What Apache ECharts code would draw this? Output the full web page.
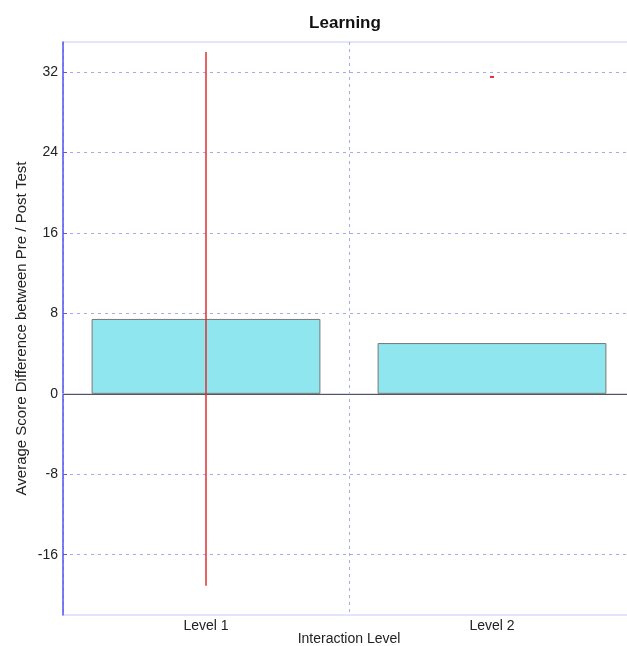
<!DOCTYPE html>
<html><head><meta charset="utf-8">
<script src="https://cdn.jsdelivr.net/npm/echarts@6/dist/echarts.min.js"></script>
<style>html,body{margin:0;padding:0;background:#fff;overflow:hidden}#c{width:627px;height:646px}</style>
</head><body><div id="c"></div>
<script>
var categories = ['Level 1', 'Level 2'];
var means = [7.45, 5.05];
var errLow = [-19.1, 31.45];
var errHigh = [34.0, 31.6];
var yTicks = [-16, -8, 0, 8, 16, 24, 32];

var chart = echarts.init(document.getElementById('c'));
var font = 'Liberation Sans, Arial, sans-serif';
chart.setOption({
  animation: false,
  title: {text: 'Learning', left: 340, textAlign: 'center', top: 10,
    textStyle: {fontFamily: font, fontSize: 17, fontWeight: 'bold', color: '#111'}},
  grid: {left: 63, top: 42, width: 572, height: 573, outerBoundsMode: 'none', containLabel: false,
    show: true, borderColor: '#c8c8f8', borderWidth: 1, backgroundColor: 'transparent'},
  xAxis: {
    type: 'category', data: categories,
    name: 'Interaction Level', nameLocation: 'middle', nameGap: 17, nameMoveOverlap: false,
    nameTextStyle: {fontFamily: font, fontSize: 14, color: '#222'},
    axisLine: {show: true, lineStyle: {color: '#c8c8f8', width: 1.5}},
    axisTick: {show: false},
    axisLabel: {fontFamily: font, fontSize: 14, color: '#222', margin: 4},
    splitLine: {show: true, lineStyle: {color: '#a8a8f4', type: [3, 4]}}
  },
  yAxis: {
    type: 'value', min: -22, max: 35,
    name: 'Average Score Difference between Pre / Post Test', nameLocation: 'middle', nameGap: 34, nameMoveOverlap: false,
    nameTextStyle: {fontFamily: font, fontSize: 15, color: '#222'},
    axisLine: {show: true, lineStyle: {color: '#5a5af0', width: 1.5}},
    axisTick: {show: true, inside: true, length: 4, customValues: yTicks, lineStyle: {color: '#5a5af0'}},
    axisLabel: {fontFamily: font, fontSize: 14, color: '#222', margin: 5, customValues: yTicks},
    splitLine: {show: true, lineStyle: {color: '#a8a8f4', type: [3, 4]}}
  },
  series: [
    {
      type: 'bar', data: means, barWidth: '80%',
      itemStyle: {color: '#8fe6ee', borderColor: '#777', borderWidth: 1},
      markLine: {silent: true, symbol: 'none', label: {show: false},
        lineStyle: {color: '#555', type: 'solid', width: 1.2},
        data: [{yAxis: 0}]}
    },
    {
      type: 'custom',
      data: categories.map(function (c, i) { return [i, errLow[i], errHigh[i]]; }),
      encode: {x: 0, y: [1, 2]},
      z: 5,
      renderItem: function (params, api) {
        var i = api.value(0);
        var lo = api.coord([i, api.value(1)]);
        var hi = api.coord([i, api.value(2)]);
        var w = (hi[1] - lo[1] > -6) ? 2 : 0;
        return {type: 'group', children: [
          {type: 'line', shape: {x1: lo[0], y1: lo[1], x2: hi[0], y2: hi[1]}, style: {stroke: '#e03030', lineWidth: 1.5}},
          {type: 'line', shape: {x1: lo[0] - w, y1: (lo[1] + hi[1]) / 2, x2: lo[0] + w, y2: (lo[1] + hi[1]) / 2}, style: {stroke: '#e03030', lineWidth: 2}}
        ]};
      }
    }
  ]
});
</script></body></html>
